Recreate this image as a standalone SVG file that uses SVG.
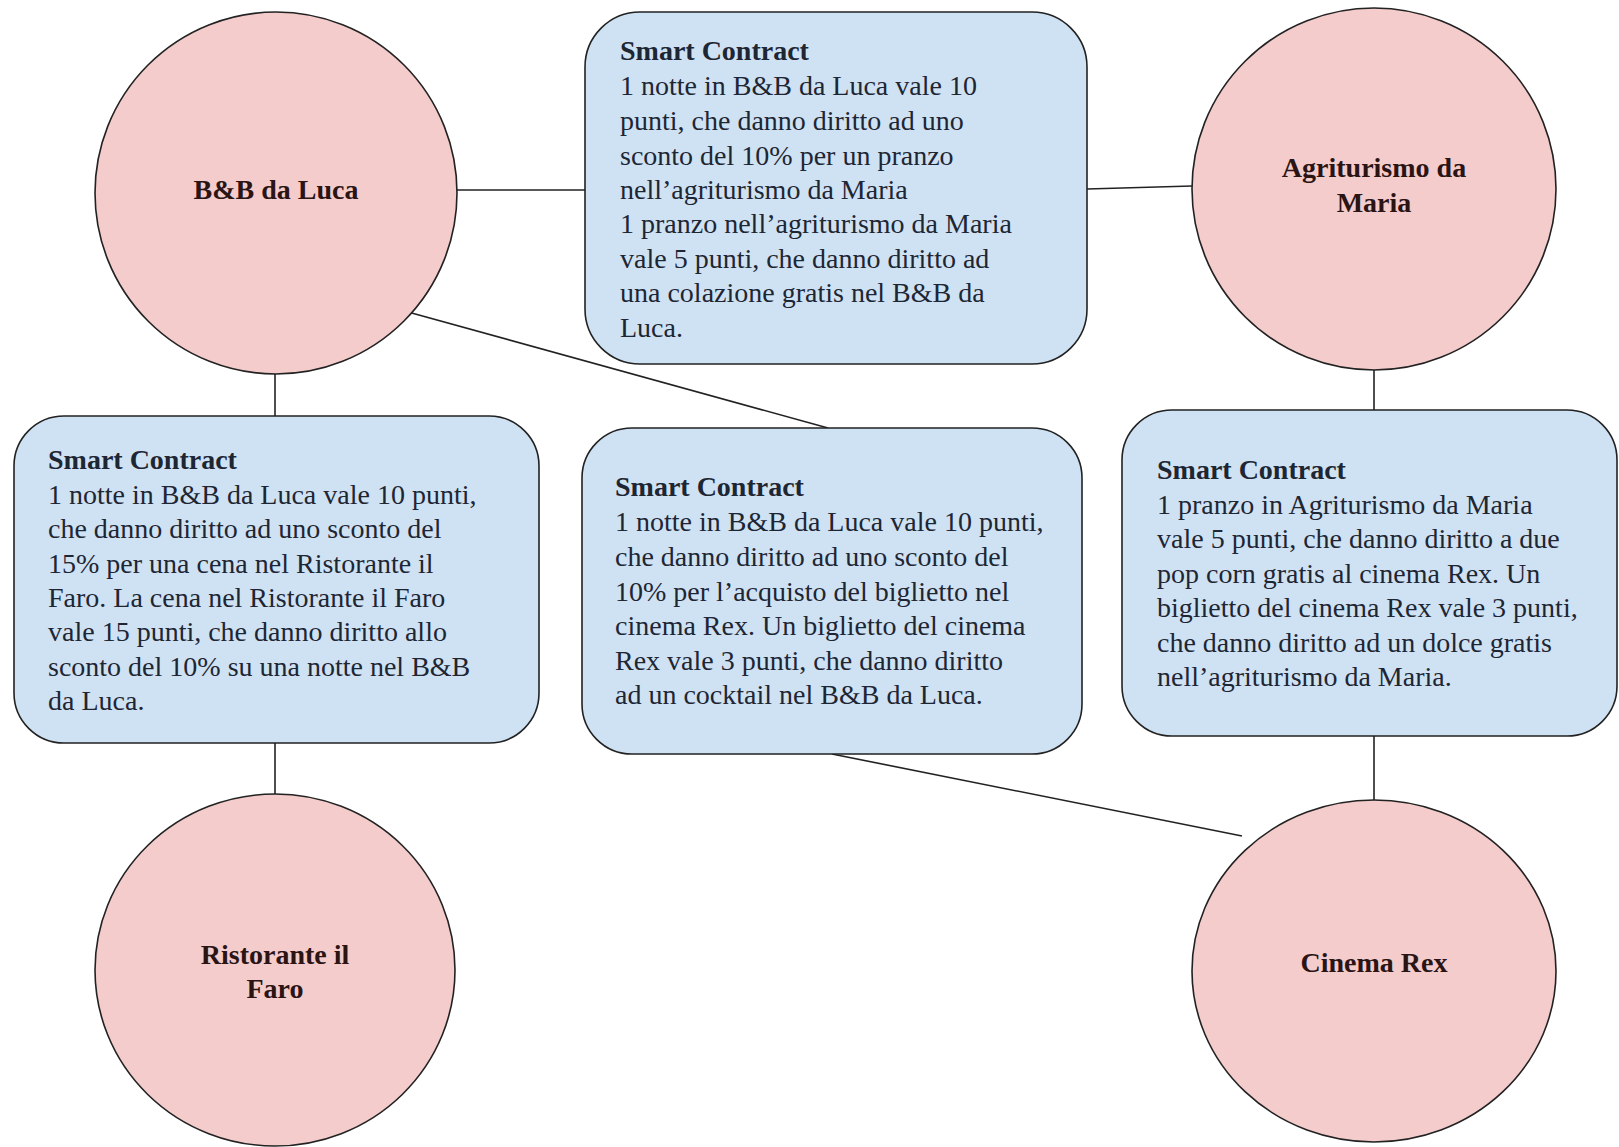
<svg xmlns="http://www.w3.org/2000/svg" width="1619" height="1147" viewBox="0 0 1619 1147">
<style>
.circ{fill:#f4cccc;stroke:#222;stroke-width:1.6}
.box{fill:#cfe2f3;stroke:#222;stroke-width:1.6}
.lbl{font-family:"Liberation Serif","DejaVu Serif",serif;font-weight:bold;font-size:28px;fill:#2a1414;text-anchor:middle}
.txt{font-family:"Liberation Serif","DejaVu Serif",serif;font-size:28px;fill:#1e2633}
.hd{font-weight:bold}
.con{stroke:#222;stroke-width:1.6;fill:none}
</style>
<rect width="1619" height="1147" fill="#fff"/>
<g id="connectors">
<line class="con" x1="457" y1="190" x2="585" y2="190"/>
<line class="con" x1="1087" y1="189" x2="1192" y2="186"/>
<line class="con" x1="275" y1="374" x2="275" y2="416"/>
<line class="con" x1="408" y1="312" x2="828" y2="428"/>
<line class="con" x1="1374" y1="370" x2="1374" y2="410"/>
<line class="con" x1="1374" y1="736" x2="1374" y2="800"/>
<line class="con" x1="275" y1="743" x2="275" y2="795"/>
<line class="con" x1="832" y1="754" x2="1242" y2="836"/>
</g>
<g id="bb">
<ellipse class="circ" cx="276" cy="193" rx="181" ry="181"/>
<text class="lbl" x="276" y="199">B&amp;B da Luca</text>
</g>
<g id="agri">
<ellipse class="circ" cx="1374" cy="189" rx="182" ry="181"/>
<text class="lbl" x="1374" y="177">Agriturismo da</text>
<text class="lbl" x="1374" y="212">Maria</text>
</g>
<g id="faro">
<ellipse class="circ" cx="275" cy="970" rx="180" ry="176"/>
<text class="lbl" x="275" y="964">Ristorante il</text>
<text class="lbl" x="275" y="998">Faro</text>
</g>
<g id="rex">
<ellipse class="circ" cx="1374" cy="971" rx="182" ry="171"/>
<text class="lbl" x="1374" y="972">Cinema Rex</text>
</g>
<g id="sc1">
<rect class="box" x="585" y="12" width="502" height="352" rx="55" ry="55"/>
<text class="txt" x="620">
<tspan class="hd" x="620" y="60">Smart Contract</tspan>
<tspan x="620" y="95">1 notte in B&amp;B da Luca vale 10</tspan>
<tspan x="620" y="130">punti, che danno diritto ad uno</tspan>
<tspan x="620" y="165">sconto del 10% per un pranzo</tspan>
<tspan x="620" y="199">nell’agriturismo da Maria</tspan>
<tspan x="620" y="233">1 pranzo nell’agriturismo da Maria</tspan>
<tspan x="620" y="268">vale 5 punti, che danno diritto ad</tspan>
<tspan x="620" y="302">una colazione gratis nel B&amp;B da</tspan>
<tspan x="620" y="337">Luca.</tspan>
</text>
</g>
<g id="sc2">
<rect class="box" x="14" y="416" width="525" height="327" rx="50" ry="50"/>
<text class="txt">
<tspan class="hd" x="48" y="469">Smart Contract</tspan>
<tspan x="48" y="504">1 notte in B&amp;B da Luca vale 10 punti,</tspan>
<tspan x="48" y="538">che danno diritto ad uno sconto del</tspan>
<tspan x="48" y="573">15% per una cena nel Ristorante il</tspan>
<tspan x="48" y="607">Faro. La cena nel Ristorante il Faro</tspan>
<tspan x="48" y="641">vale 15 punti, che danno diritto allo</tspan>
<tspan x="48" y="676">sconto del 10% su una notte nel B&amp;B</tspan>
<tspan x="48" y="710">da Luca.</tspan>
</text>
</g>
<g id="sc3">
<rect class="box" x="582" y="428" width="500" height="326" rx="50" ry="50"/>
<text class="txt">
<tspan class="hd" x="615" y="496">Smart Contract</tspan>
<tspan x="615" y="531">1 notte in B&amp;B da Luca vale 10 punti,</tspan>
<tspan x="615" y="566">che danno diritto ad uno sconto del</tspan>
<tspan x="615" y="601">10% per l’acquisto del biglietto nel</tspan>
<tspan x="615" y="635">cinema Rex. Un biglietto del cinema</tspan>
<tspan x="615" y="670">Rex vale 3 punti, che danno diritto</tspan>
<tspan x="615" y="704">ad un cocktail nel B&amp;B da Luca.</tspan>
</text>
</g>
<g id="sc4">
<rect class="box" x="1122" y="410" width="495" height="326" rx="50" ry="50"/>
<text class="txt">
<tspan class="hd" x="1157" y="479">Smart Contract</tspan>
<tspan x="1157" y="514">1 pranzo in Agriturismo da Maria</tspan>
<tspan x="1157" y="548">vale 5 punti, che danno diritto a due</tspan>
<tspan x="1157" y="583">pop corn gratis al cinema Rex. Un</tspan>
<tspan x="1157" y="617">biglietto del cinema Rex vale 3 punti,</tspan>
<tspan x="1157" y="652">che danno diritto ad un dolce gratis</tspan>
<tspan x="1157" y="686">nell’agriturismo da Maria.</tspan>
</text>
</g>
</svg>
